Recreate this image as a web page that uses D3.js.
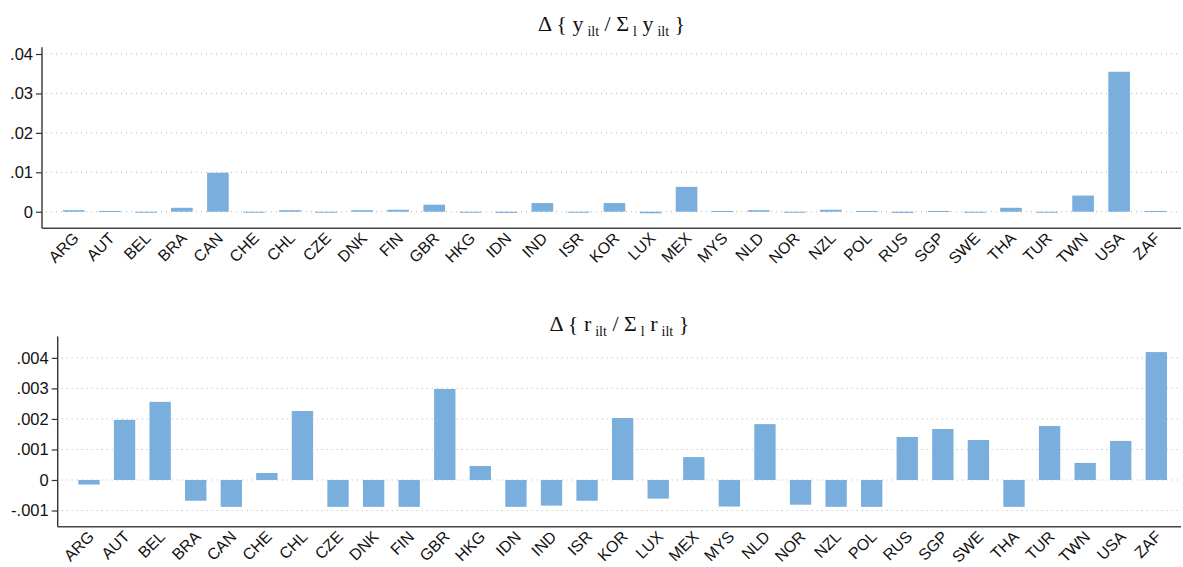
<!DOCTYPE html>
<html>
<head>
<meta charset="utf-8">
<script src="https://cdn.jsdelivr.net/npm/d3@7"></script>
<style>
  html, body { margin: 0; padding: 0; background: #fff; }
  svg { display: block; }
  .tick-label { font-family: "Liberation Sans", Arial, sans-serif; font-size: 16.5px; fill: #111; }
  .x-label { font-family: "Liberation Sans", Arial, sans-serif; font-size: 16px; fill: #111; }
  .title { font-family: "Liberation Serif", "Times New Roman", serif; font-size: 22px; fill: #111; }
</style>
</head>
<body>
<div id="chart"></div>
<script>
// Country codes along the x axis (same for both panels)
const countries = ["ARG", "AUT", "BEL", "BRA", "CAN", "CHE", "CHL", "CZE", "DNK", "FIN",
    "GBR", "HKG", "IDN", "IND", "ISR", "KOR", "LUX", "MEX", "MYS", "NLD",
    "NOR", "NZL", "POL", "RUS", "SGP", "SWE", "THA", "TUR", "TWN", "USA", "ZAF"];

// Change in y_ilt / sum_l y_ilt
const yShareChange = [0.0004, 0.0002, -0.0002, 0.0010, 0.0099, -0.0002, 0.0004, -0.0002, 0.0004, 0.0005,
    0.0018, -0.0002, -0.0003, 0.0022, -0.0002, 0.0022, -0.0004, 0.0063, 0.0002, 0.0004,
    -0.0002, 0.0005, 0.0002, -0.0003, 0.0002, -0.0002, 0.0010, -0.0002, 0.0041, 0.0355, 0.0002];

// Change in r_ilt / sum_l r_ilt
const rShareChange = [-0.00015, 0.00197, 0.00256, -0.00068, -0.00088, 0.00023, 0.00226, -0.00088, -0.00088, -0.00088,
    0.00298, 0.00046, -0.00088, -0.00084, -0.00068, 0.00203, -0.00061, 0.00075, -0.00087, 0.00183,
    -0.00081, -0.00088, -0.00088, 0.00141, 0.00167, 0.00131, -0.00088, 0.00177, 0.00056, 0.00128, 0.00419];

const yTicks = [0, 0.01, 0.02, 0.03, 0.04];
const rTicks = [-0.001, 0, 0.001, 0.002, 0.003, 0.004];

const width = 1183;
const height = 567;
const barColor = "#7aafdd";

const svg = d3.select("#chart").append("svg")
    .attr("width", width)
    .attr("height", height);

// Stata-style tick labels: ".04", "-.001", "0"
const stataFormat = v => v === 0 ? "0" : String(+v.toFixed(4)).replace(/^(-?)0\./, "$1.");

function drawPanel({ values, ticks, yDomain, yRange, xRange, left, right, titleBase, titleY }) {
    const g = svg.append("g");

    const x = d3.scaleBand()
        .domain(countries)
        .range(xRange)
        .paddingInner(0.4)
        .paddingOuter(0.2);
    const y = d3.scaleLinear().domain(yDomain).range(yRange);

    // dotted gridlines
    g.append("g")
        .selectAll("line")
        .data(ticks)
        .join("line")
        .attr("x1", left + 4)
        .attr("x2", right)
        .attr("y1", d => y(d))
        .attr("y2", d => y(d))
        .attr("stroke", "#b5b5b5")
        .attr("stroke-width", 1)
        .attr("stroke-dasharray", "1,4");

    // bars
    g.append("g")
        .selectAll("rect")
        .data(values)
        .join("rect")
        .attr("x", (d, i) => x(countries[i]))
        .attr("width", x.bandwidth())
        .attr("y", d => Math.min(y(d), y(0)))
        .attr("height", d => Math.max(1, Math.abs(y(d) - y(0))))
        .attr("fill", barColor);

    // y axis
    const yAxis = g.append("g")
        .attr("transform", `translate(${left},0)`)
        .call(d3.axisLeft(y).tickValues(ticks).tickSize(6).tickPadding(3).tickFormat(stataFormat));
    yAxis.select(".domain").attr("stroke", "#333").attr("stroke-width", 1.4).attr("d", `M0,${yRange[1]}V${yRange[0]}`);
    yAxis.selectAll(".tick line").attr("stroke", "#333").attr("stroke-width", 1.2);
    yAxis.selectAll(".tick text").attr("class", "tick-label").attr("font-size", null).attr("font-family", null);

    // x axis line
    g.append("line")
        .attr("x1", left)
        .attr("x2", right)
        .attr("y1", yRange[0])
        .attr("y2", yRange[0])
        .attr("stroke", "#444")
        .attr("stroke-width", 1.4);

    // rotated country labels
    g.append("g")
        .selectAll("text")
        .data(countries)
        .join("text")
        .attr("class", "x-label")
        .attr("text-anchor", "end")
        .attr("transform", d => `translate(${x(d) + x.bandwidth() / 2 + 6},${yRange[0] + 11}) rotate(-45)`)
        .text(d => d);

    // title: Δ { b_ilt / Σ_l b_ilt }
    const title = g.append("text")
        .attr("class", "title")
        .attr("text-anchor", "middle")
        .attr("x", (left + right) / 2)
        .attr("y", titleY);
    const parts = [
        ["Δ { " + titleBase, false], ["ilt", true], [" / Σ", false], ["l", true],
        [" " + titleBase, false], ["ilt", true], [" }", false]
    ];
    let shifted = false;
    parts.forEach(([txt, sub]) => {
        const t = title.append("tspan").text(txt);
        if (sub && !shifted) { t.attr("dy", 5).attr("font-size", 14).attr("dx", 4); shifted = true; }
        else if (sub) { t.attr("font-size", 14).attr("dx", 4); }
        else if (shifted) { t.attr("dy", -5); shifted = false; }
    });
}

drawPanel({
    values: yShareChange,
    ticks: yTicks,
    yDomain: [-0.0042, 0.0417],
    yRange: [228.3, 47.3],
    xRange: [55.7, 1173.2],
    left: 42,
    right: 1181,
    titleBase: "y",
    titleY: 31
});

drawPanel({
    values: rShareChange,
    ticks: rTicks,
    yDomain: [-0.00153, 0.0047],
    yRange: [526.7, 336.5],
    xRange: [71.2, 1174.1],
    left: 57.7,
    right: 1181,
    titleBase: "r",
    titleY: 331
});
</script>
</body>
</html>
